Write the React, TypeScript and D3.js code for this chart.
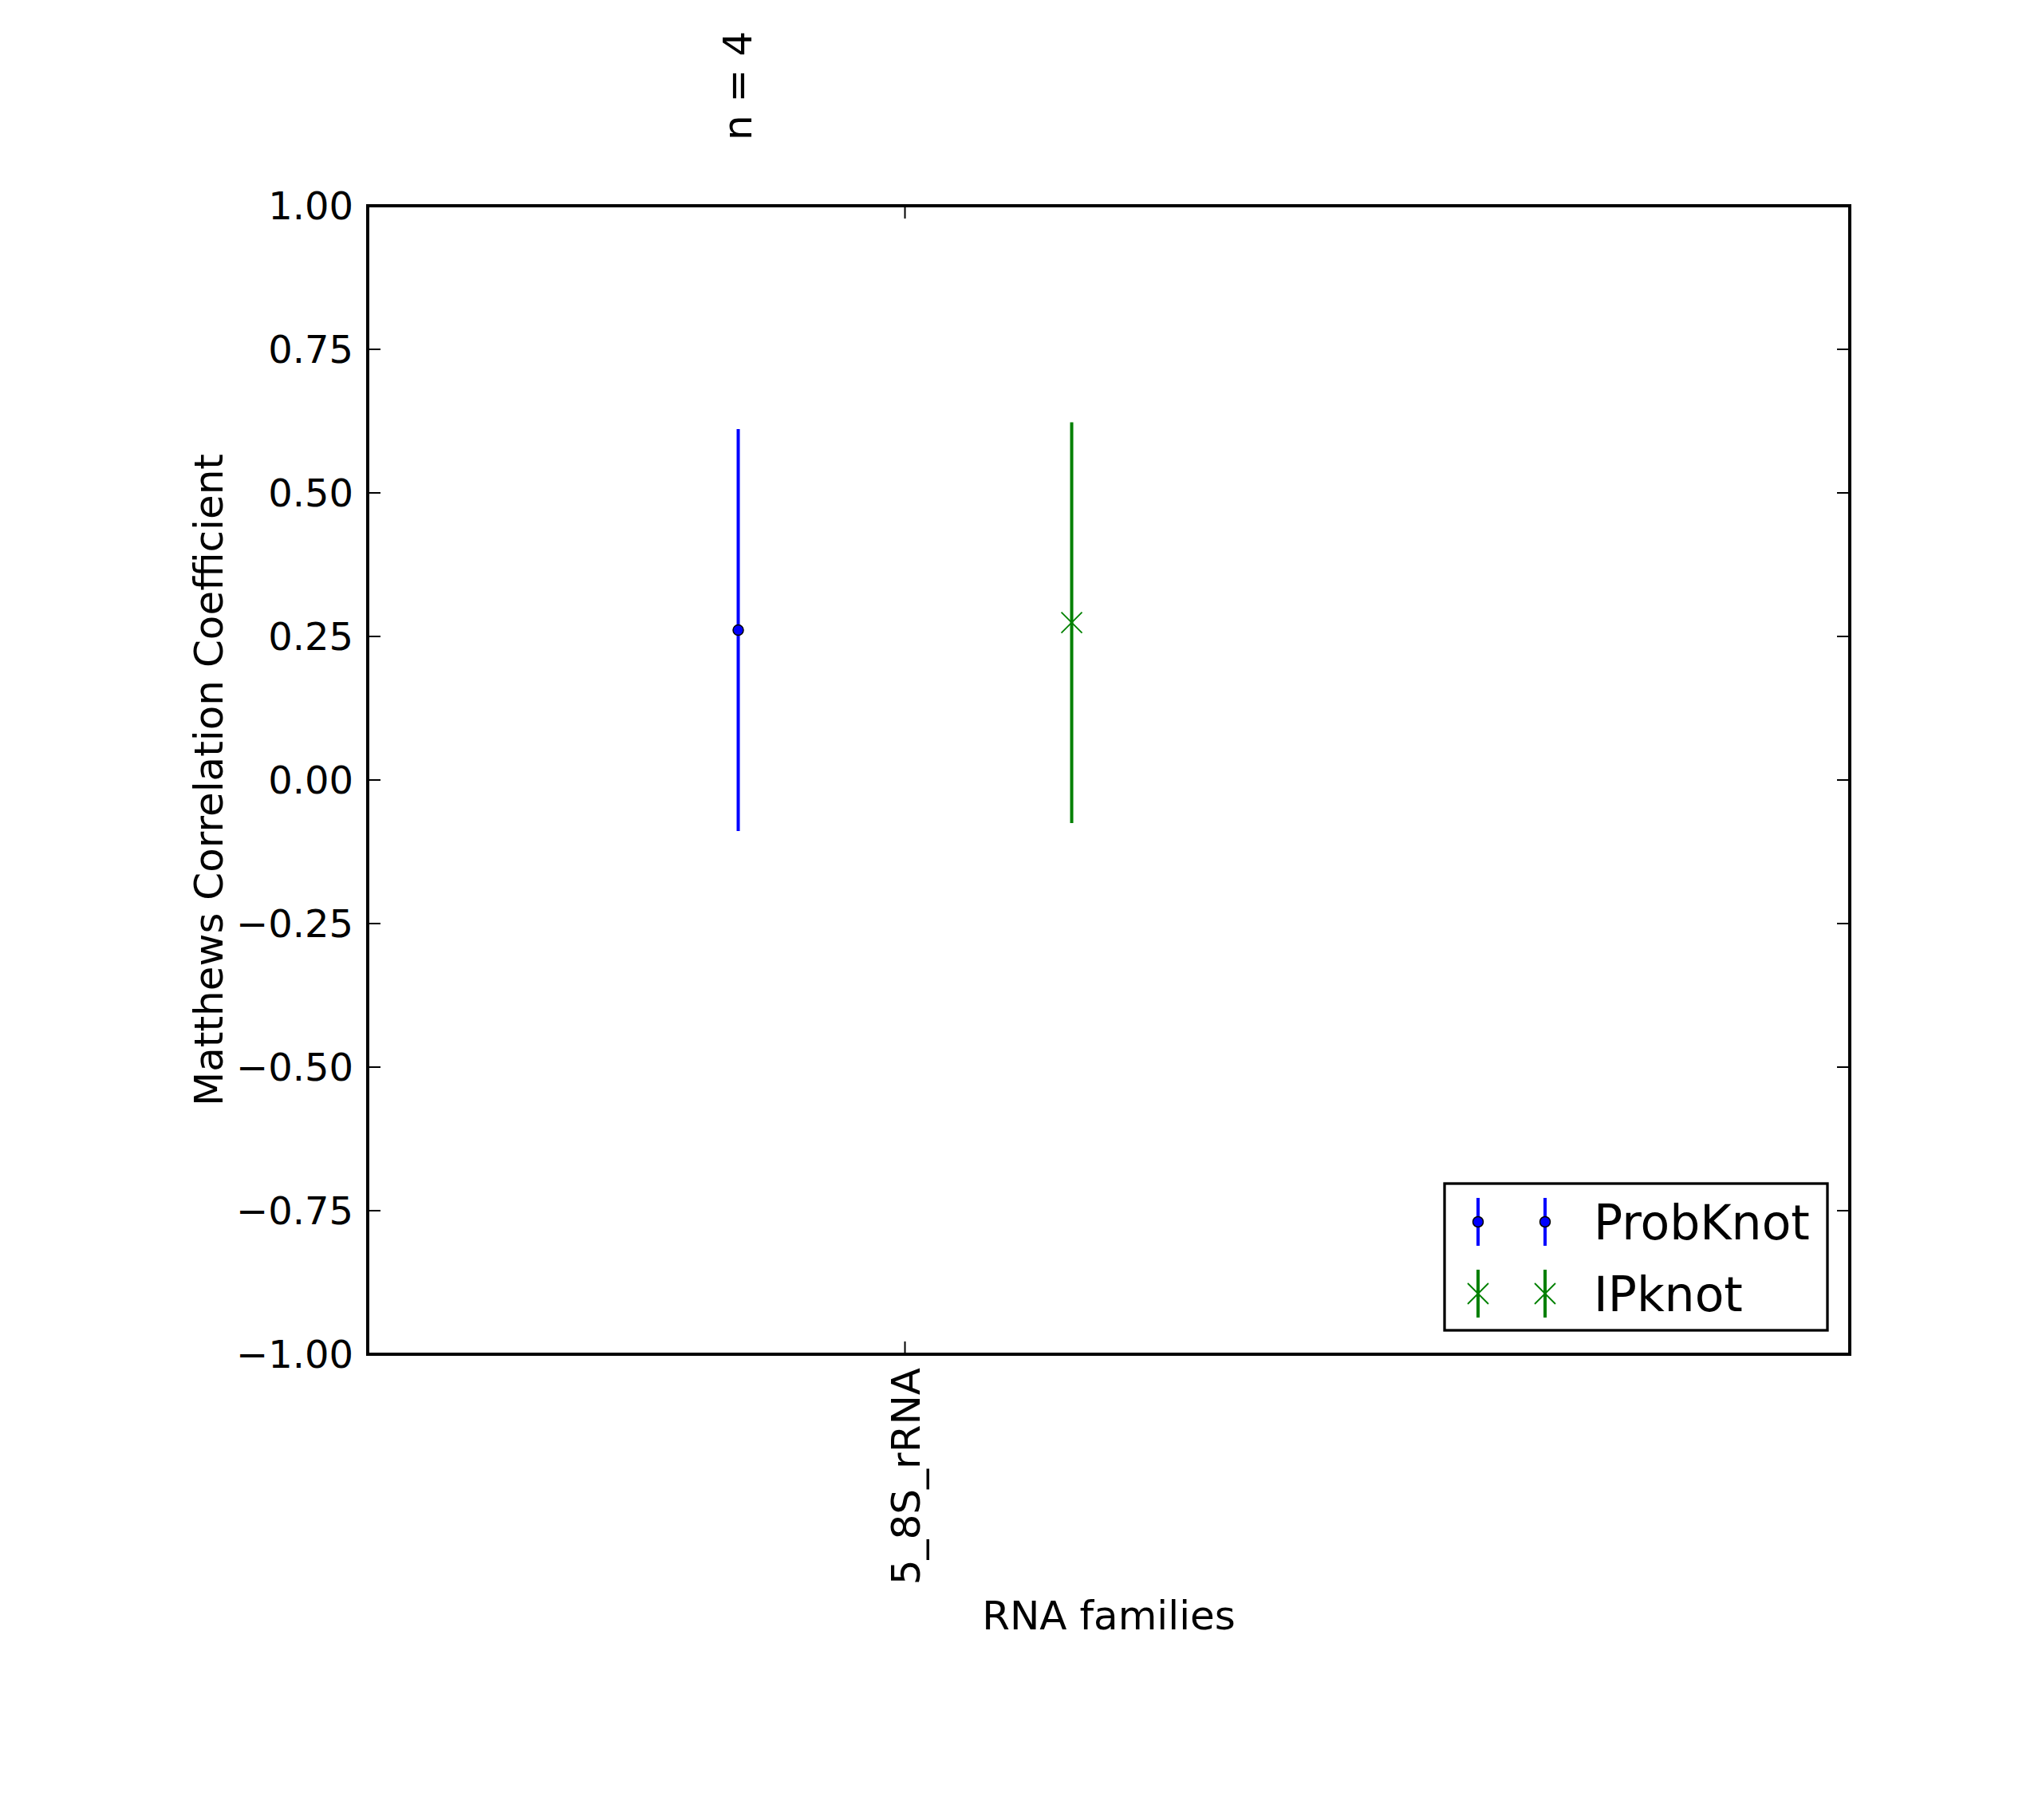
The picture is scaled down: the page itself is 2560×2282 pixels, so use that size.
import React, { useEffect, useRef } from "react";
import * as d3 from "d3";

const families = ["5_8S_rRNA"];
const familyCounts = ["n = 4"];
const methods = ["ProbKnot", "IPknot"];
const methodColors = ["#0000ff", "#008000"];
const methodMarkers = ["circle", "x"];
const xPositions = [1.0, 1.9];
const tickPositions = [1.45];
const means = [0.261, 0.274];
const errors = [0.35, 0.349];
const yTicks = [-1.0, -0.75, -0.5, -0.25, 0.0, 0.25, 0.5, 0.75, 1.0];

const W = 2560;
const H = 2282;
const M = { left: 461, right: 2319, top: 258, bottom: 1698 };
const FONT = "'DejaVu Sans', sans-serif";
const FS = 50;
const YFS = 48;
const LFS = 60;

export default function App() {
  const ref = useRef<SVGSVGElement | null>(null);

  useEffect(() => {
    document.body.style.margin = "0";
    const svg = d3.select(ref.current);
    svg.selectAll("*").remove();

    const x = d3.scaleLinear().domain([0, 4]).range([M.left, M.right]);
    const y = d3.scaleLinear().domain([-1, 1]).range([M.bottom, M.top]);
    const fmt = (v: number) => d3.format(".2f")(v).replace("-", "\u2212");

    svg.append("rect").attr("width", W).attr("height", H).attr("fill", "#fff");

    const tickLen = 16;
    const g = svg.append("g");

    // y ticks left & right (inside)
    yTicks.forEach((t) => {
      const yy = y(t);
      g.append("line").attr("x1", M.left).attr("x2", M.left + tickLen).attr("y1", yy).attr("y2", yy)
        .attr("stroke", "#000").attr("stroke-width", 2);
      g.append("line").attr("x1", M.right).attr("x2", M.right - tickLen).attr("y1", yy).attr("y2", yy)
        .attr("stroke", "#000").attr("stroke-width", 2);
      g.append("text").attr("x", M.left - 18).attr("y", yy).attr("dy", "0.36em")
        .attr("text-anchor", "end").attr("font-family", FONT).attr("font-size", YFS)
        .text(fmt(t));
    });

    // x ticks top & bottom (inside)
    tickPositions.forEach((t, i) => {
      const xx = x(t);
      g.append("line").attr("x1", xx).attr("x2", xx).attr("y1", M.bottom).attr("y2", M.bottom - tickLen)
        .attr("stroke", "#000").attr("stroke-width", 2);
      g.append("line").attr("x1", xx).attr("x2", xx).attr("y1", M.top).attr("y2", M.top + tickLen)
        .attr("stroke", "#000").attr("stroke-width", 2);
      g.append("text")
        .attr("transform", `translate(${xx},${M.bottom + 17}) rotate(-90)`)
        .attr("text-anchor", "end").attr("dy", "0.36em")
        .attr("font-family", FONT).attr("font-size", FS)
        .text(families[i]);
    });

    // n = 4 annotations above the first method position
    familyCounts.forEach((c) => {
      const xx = x(xPositions[0]) - 2;
      g.append("text")
        .attr("transform", `translate(${xx},${176}) rotate(-90)`)
        .attr("text-anchor", "start").attr("dy", "0.36em")
        .attr("font-family", FONT).attr("font-size", FS)
        .text(c);
    });

    // frame
    g.append("rect").attr("x", M.left).attr("y", M.top)
      .attr("width", M.right - M.left).attr("height", M.bottom - M.top)
      .attr("fill", "none").attr("stroke", "#000").attr("stroke-width", 4);

    const drawMarker = (sel: any, kind: string, cx: number, cy: number, color: string) => {
      if (kind === "circle") {
        sel.append("circle").attr("cx", cx).attr("cy", cy).attr("r", 6.5)
          .attr("fill", color).attr("stroke", "#000").attr("stroke-width", 1.5);
      } else {
        const s = 13;
        sel.append("path")
          .attr("d", `M${cx - s},${cy - s}L${cx + s},${cy + s}M${cx - s},${cy + s}L${cx + s},${cy - s}`)
          .attr("stroke", color).attr("stroke-width", 1.8).attr("fill", "none");
      }
    };

    // error bars
    methods.forEach((m, i) => {
      const xx = x(xPositions[i]);
      g.append("line").attr("x1", xx).attr("x2", xx)
        .attr("y1", y(means[i] - errors[i])).attr("y2", y(means[i] + errors[i]))
        .attr("stroke", methodColors[i]).attr("stroke-width", 4);
      drawMarker(g, methodMarkers[i], xx, y(means[i]), methodColors[i]);
    });

    // axis labels
    g.append("text").attr("x", (M.left + M.right) / 2).attr("y", 2025).attr("dy", "0.36em")
      .attr("text-anchor", "middle").attr("font-family", FONT).attr("font-size", FS)
      .text("RNA families");
    g.append("text")
      .attr("transform", `translate(261,${(M.top + M.bottom) / 2}) rotate(-90)`)
      .attr("text-anchor", "middle").attr("dy", "0.36em")
      .attr("font-family", FONT).attr("font-size", FS)
      .text("Matthews Correlation Coefficient");

    // legend
    const lg = g.append("g");
    lg.append("rect").attr("x", 1811).attr("y", 1484).attr("width", 480).attr("height", 184)
      .attr("fill", "#fff").attr("stroke", "#000").attr("stroke-width", 3.3);
    const rowY = [1532, 1622];
    const mk = [1853, 1937];
    methods.forEach((m, i) => {
      mk.forEach((mx) => {
        lg.append("line").attr("x1", mx).attr("x2", mx).attr("y1", rowY[i] - 30).attr("y2", rowY[i] + 30)
          .attr("stroke", methodColors[i]).attr("stroke-width", 4);
        drawMarker(lg, methodMarkers[i], mx, rowY[i], methodColors[i]);
      });
      lg.append("text").attr("x", 1998).attr("y", rowY[i]).attr("dy", "0.36em")
        .attr("font-family", FONT).attr("font-size", LFS).text(m);
    });
  }, []);

  return (
    <div style={{ position: "absolute", left: 0, top: 0 }}>
      <svg ref={ref} width={W} height={H} style={{ display: "block" }} />
    </div>
  );
}
